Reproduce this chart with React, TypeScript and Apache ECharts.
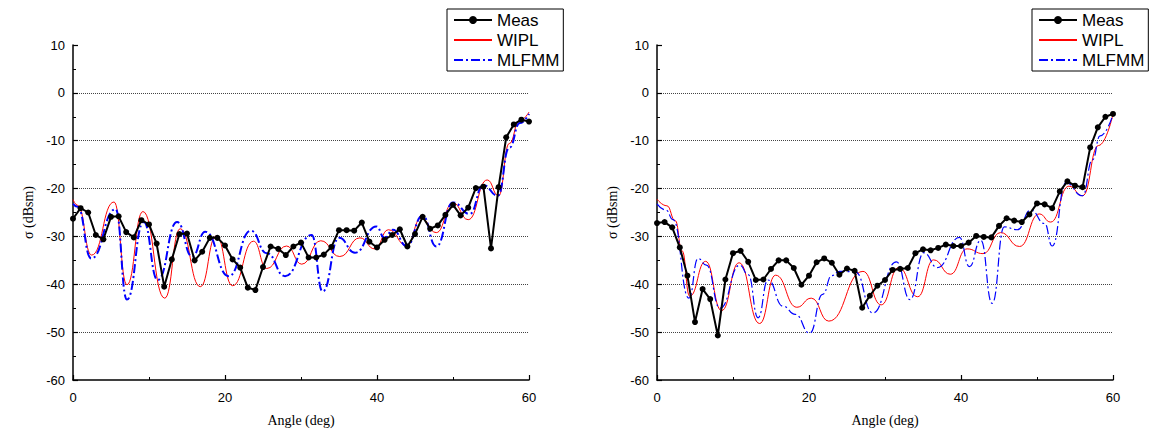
import React, { useEffect, useRef } from "react";
import * as echarts from "echarts";

const ANGLES = [
  0, 1, 2, 3, 4, 5, 6, 7, 8, 9, 10, 11, 12, 13, 14, 15, 16, 17, 18, 19, 20,
  21, 22, 23, 24, 25, 26, 27, 28, 29, 30, 31, 32, 33, 34, 35, 36, 37, 38, 39, 40,
  41, 42, 43, 44, 45, 46, 47, 48, 49, 50, 51, 52, 53, 54, 55, 56, 57, 58, 59, 60,
];

const X_TICKS = [0, 20, 40, 60];
const Y_TICKS = [-60, -50, -40, -30, -20, -10, 0, 10];
const LEGEND_NAMES = ["Meas", "WIPL", "MLFMM"];

const MEAS_LEFT = [
  -26.3, -24.1, -25.0, -29.7, -30.6, -25.9, -25.8, -29.1, -30.2, -26.6, -27.5,
  -31.5, -40.5, -34.8, -29.5, -29.4, -35.0, -33.2, -30.3, -30.3, -31.9,
  -34.8, -36.5, -40.7, -41.2, -36.4, -32.1, -32.6, -33.9, -32.1, -31.3,
  -34.4, -34.4, -33.8, -32.2, -28.7, -28.7, -28.8, -27.1, -31.1, -32.3,
  -30.7, -29.7, -28.5, -32.1, -29.5, -25.9, -28.4, -27.7, -25.5, -23.4,
  -25.6, -24.0, -19.9, -19.6, -32.5, -19.7, -9.3, -6.6, -5.6, -6.0,
];

const WIPL_LEFT: [number, number][] = [
  [0, -22.3], [0.6, -23.5], [2.45, -33.9], [5.4, -22.8], [7.1, -40.1],
  [9.2, -24.8], [12.07, -42.9], [14.1, -28.4], [16.75, -40.5], [18.85, -29.9],
  [21.0, -40.3], [23.75, -31.0], [25.5, -36.7], [28.1, -32.0], [30.1, -35.8],
  [32.6, -30.9], [35.1, -34.2], [37.75, -30.3], [39.7, -32.6], [41.5, -28.6],
  [43.9, -31.9], [45.8, -26.2], [47.8, -29.2], [50.0, -23.0], [52.0, -26.5],
  [54.5, -18.2], [56.0, -21.5], [57.4, -10.6], [58.75, -5.8], [60, -4.0],
];

const MLFMM_LEFT: [number, number][] = [
  [0, -23.2], [0.6, -23.8], [2.4, -34.6], [5.6, -24.3], [7.1, -43.2],
  [9.3, -27.0], [11.15, -39.1], [13.7, -27.0], [15.7, -34.2], [17.4, -29.0],
  [20.5, -38.3], [23.4, -28.8], [25.5, -33.5], [27.9, -38.3], [31.4, -29.7],
  [32.85, -41.5], [35.0, -30.3], [37.1, -33.4], [39.9, -27.9], [41.0, -30.3],
  [42.1, -28.6], [43.9, -32.0], [46.0, -25.7], [47.8, -32.1], [50.0, -22.9],
  [52.2, -25.3], [54.0, -19.3], [55.9, -21.5], [57.4, -11.5], [58.8, -6.3],
  [60, -4.4],
];

const MEAS_RIGHT = [
  -27.2, -27.0, -28.1, -32.3, -38.2, -47.9, -41.0, -43.1, -50.7, -39.0, -33.5,
  -33.0, -35.3, -39.1, -39.0, -36.8, -35.0, -35.0, -36.6, -40.1, -38.2,
  -35.4, -34.6, -35.5, -38.0, -36.7, -37.2, -44.9, -42.4, -40.3, -39.1,
  -37.0, -36.8, -36.6, -33.5, -32.7, -32.9, -32.4, -31.7, -32.0, -32.0,
  -31.3, -29.9, -30.1, -30.2, -27.8, -26.2, -26.7, -27.0, -25.4, -23.1,
  -23.3, -24.1, -20.6, -18.5, -19.4, -19.7, -11.4, -7.2, -5.0, -4.4,
];

const WIPL_RIGHT: [number, number][] = [
  [0, -22.2], [1.3, -23.6], [2.4, -26.7], [3.3, -33.0], [4.3, -42.5],
  [6.4, -35.2], [8.5, -45.5], [10.8, -35.5], [13.5, -48.2], [15.6, -38.1],
  [18.4, -44.8], [20.3, -42.9], [22.6, -47.7], [27.1, -37.3], [29.5, -44.3],
  [31.8, -36.5], [34.3, -42.6], [36.4, -34.9], [38.6, -37.9], [40.8, -32.6],
  [42.9, -33.6], [45.2, -29.2], [47.7, -32.1], [50.3, -25.3], [51.8, -27.0],
  [54.2, -19.5], [56.0, -21.5], [58.1, -11.0], [60, -4.5],
];

const MLFMM_RIGHT: [number, number][] = [
  [0, -23.2], [1.2, -24.5], [2.1, -26.5], [4.2, -42.9], [5.4, -34.6],
  [6.5, -36.0], [8.3, -45.0], [10.9, -36.0], [12.0, -38.0], [13.3, -47.0],
  [14.6, -39.1], [16.6, -44.6], [18.2, -46.3], [20.1, -50.2], [21.8, -42.1],
  [23.0, -38.2], [24.0, -37.3], [26.1, -37.4], [28.4, -46.0], [31.5, -35.3],
  [33.3, -43.2], [35.1, -33.4], [36.9, -36.5], [39.8, -30.2], [41.1, -36.3],
  [42.6, -30.8], [44.1, -44.0], [45.7, -28.0], [47.4, -28.6], [49.2, -24.5],
  [51.0, -27.3], [52.0, -32.0], [53.8, -18.8], [56.0, -21.5], [57.3, -14.0],
  [58.3, -9.0], [60, -4.5],
];

const SANS = "'Liberation Sans', Arial, sans-serif";
const SERIF = "'Liberation Serif', 'Times New Roman', serif";

const HIDDEN_SYMBOL = {
  color: "rgba(0,0,0,0)",
  borderColor: "rgba(0,0,0,0)",
  borderWidth: 0,
  opacity: 0,
};

function buildOption(
  meas: number[],
  wipl: [number, number][],
  mlfmm: [number, number][],
  gridLeft: number,
  legendLeft: number,
  blueWidth: number
) {
  const axisCommon = {
    axisLine: { show: true, onZero: false, lineStyle: { color: "#000", width: 1.5 } },
    axisTick: { show: true, inside: true, length: 5, lineStyle: { color: "#000", width: 1.2 } },
    minorTick: { show: true, splitNumber: 2, length: 3, lineStyle: { color: "#000", width: 1 } },
  };
  return {
    animation: false,
    backgroundColor: "#fff",
    grid: { left: gridLeft, top: 45, width: 456, height: 335, containLabel: false },
    legend: {
      data: [
        { name: LEGEND_NAMES[0] },
        { name: LEGEND_NAMES[1], itemStyle: HIDDEN_SYMBOL },
        { name: LEGEND_NAMES[2], itemStyle: HIDDEN_SYMBOL },
      ],
      orient: "vertical",
      left: legendLeft,
      top: 9,
      borderColor: "#000",
      borderWidth: 1,
      padding: [2, 4, 2, 6],
      itemWidth: 38,
      itemHeight: 10,
      itemGap: 2,
      selectedMode: false,
      textStyle: { fontFamily: SANS, fontSize: 17, color: "#000", lineHeight: 18 },
    },
    xAxis: {
      type: "value",
      min: X_TICKS[0],
      max: X_TICKS[X_TICKS.length - 1],
      interval: X_TICKS[1] - X_TICKS[0],
      name: "Angle (deg)",
      nameLocation: "middle",
      nameGap: 33,
      nameTextStyle: { fontFamily: SERIF, fontSize: 14, color: "#000" },
      ...axisCommon,
      axisLabel: { fontFamily: SANS, fontSize: 13, color: "#000", margin: 11 },
      splitLine: { show: false },
    },
    yAxis: {
      type: "value",
      min: Y_TICKS[0],
      max: Y_TICKS[Y_TICKS.length - 1],
      interval: Y_TICKS[1] - Y_TICKS[0],
      name: "σ (dBsm)",
      nameLocation: "middle",
      nameGap: 38,
      nameTextStyle: { fontFamily: SERIF, fontSize: 14, color: "#000" },
      ...axisCommon,
      axisLabel: { fontFamily: SANS, fontSize: 13, color: "#000", margin: 8 },
      splitLine: {
        show: true,
        showMinLine: false,
        showMaxLine: false,
        lineStyle: { color: "#444", width: 1, type: [1, 1] },
      },
    },
    series: [
      {
        name: "WIPL",
        type: "line",
        data: wipl,
        smooth: 0.5,
        smoothMonotone: "x",
        symbol: "none",
        lineStyle: { color: "#ff0000", width: 1 },
        itemStyle: { color: "#ff0000" },
        z: 2,
      },
      {
        name: "MLFMM",
        type: "line",
        data: mlfmm,
        smooth: 0.5,
        smoothMonotone: "x",
        symbol: "none",
        lineStyle: { color: "#0000ff", width: blueWidth, type: [9, 3, 2, 3] },
        itemStyle: { color: "#0000ff" },
        z: 3,
      },
      {
        name: "Meas",
        type: "line",
        data: ANGLES.map((a, i) => [a, meas[i]]),
        symbol: "circle",
        symbolSize: 6,
        showSymbol: true,
        lineStyle: { color: "#000", width: 2 },
        itemStyle: { color: "#000" },
        z: 4,
      },
    ],
  };
}

export default function App() {
  const leftRef = useRef<HTMLDivElement>(null);
  const rightRef = useRef<HTMLDivElement>(null);

  useEffect(() => {
    document.body.style.margin = "0";
    const c1 = echarts.init(leftRef.current!, undefined, { renderer: "svg" });
    const c2 = echarts.init(rightRef.current!, undefined, { renderer: "svg" });
    c1.setOption(buildOption(MEAS_LEFT, WIPL_LEFT, MLFMM_LEFT, 73, 447, 2) as any);
    c2.setOption(buildOption(MEAS_RIGHT, WIPL_RIGHT, MLFMM_RIGHT, 83, 458, 1.2) as any);
    return () => {
      c1.dispose();
      c2.dispose();
    };
  }, []);

  return (
    <div style={{ position: "absolute", left: 0, top: 0, width: 1149, height: 434, background: "#fff" }}>
      <div ref={leftRef} style={{ position: "absolute", left: 0, top: 0, width: 574, height: 434 }} />
      <div ref={rightRef} style={{ position: "absolute", left: 574, top: 0, width: 575, height: 434 }} />
    </div>
  );
}
